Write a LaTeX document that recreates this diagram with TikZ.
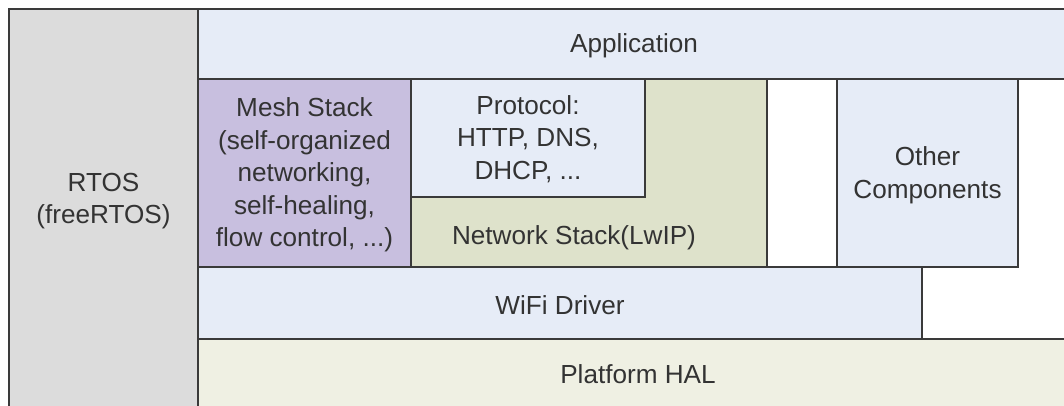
\documentclass[tikz,border=0pt]{standalone}
\usepackage{fontspec}
\setmainfont{Liberation Sans}
\definecolor{rtosgray}{HTML}{DCDCDC}
\definecolor{appblue}{HTML}{E6ECF7}
\definecolor{meshpurple}{HTML}{C8BFDF}
\definecolor{netgreen}{HTML}{DEE2CB}
\definecolor{halbeige}{HTML}{EFF0E3}
\definecolor{edge}{HTML}{3A3A3A}
\definecolor{txt}{HTML}{333333}
\tikzset{
  layer/.style={draw=edge, line width=1.3pt},
  lbl/.style={text=txt, align=center, inner sep=0pt,
    font=\fontsize{19.6}{24.4}\selectfont},
}
\begin{document}
\begin{tikzpicture}[x=0.75pt, y=-0.75pt]
\useasboundingbox (0,0) rectangle (1064,405);
\clip (0,0) rectangle (1064,405);
\fill[white] (0,0) rectangle (1064,405);
% layers
\draw[layer, fill=rtosgray] (9,9) rectangle (198,420);
\draw[layer, fill=halbeige] (198,339) rectangle (1080,420);
\draw[layer, fill=appblue] (198,9) rectangle (1080,79);
\draw[layer, fill=meshpurple] (198,79) rectangle (411,267);
\draw[layer, fill=netgreen] (411,197) -- (645,197) -- (645,79) -- (767,79) -- (767,267) -- (411,267) -- cycle;
\draw[layer, fill=appblue] (411,79) rectangle (645,197);
\draw[layer, fill=appblue] (837,79) rectangle (1018,267);
\draw[layer, fill=appblue] (198,267) rectangle (922,339);
% labels
\node[lbl] (rtos) at (103.5,201) {RTOS\\(freeRTOS)};
\node[lbl] (app) at (634,46) {Application};
\node[lbl] (mesh) at (304.5,175) {Mesh Stack\\(self-organized\\networking,\\self-healing,\\flow control, ...)};
\node[lbl] (proto) at (528,139) {Protocol:\\HTTP, DNS,\\DHCP, ...};
\node[lbl] (net) at (574,238) {Network Stack(LwIP)};
\node[lbl] (other) at (927.5,175) {Other\\Components};
\node[lbl] (wifi) at (560,305) {WiFi Driver};
\node[lbl] (hal) at (638,374) {Platform HAL};
\end{tikzpicture}
\end{document}
